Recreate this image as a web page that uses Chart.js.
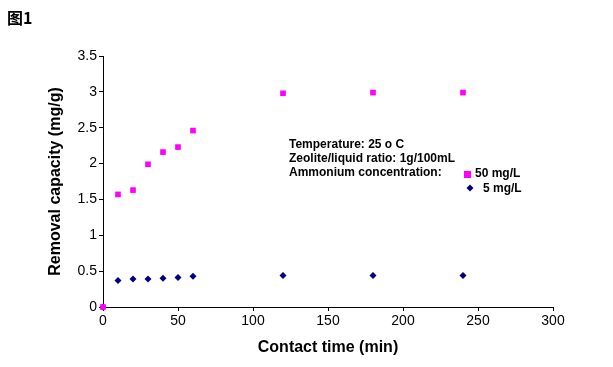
<!DOCTYPE html>
<html>
<head>
<meta charset="utf-8">
<script src="https://cdn.jsdelivr.net/npm/chart.js@4/dist/chart.umd.min.js"></script>
<style>
html,body{margin:0;padding:0;background:#fff}
#wrap{width:613px;height:367px;position:relative}
</style>
</head>
<body>
<div id="wrap"><canvas id="c" width="613" height="367"></canvas></div>
<script>
const times=[0,10,20,30,40,50,60,120,180,240];
const conc50=[0,1.57,1.63,1.99,2.16,2.23,2.46,2.98,2.99,2.99];
const conc5=[0,0.37,0.39,0.39,0.40,0.41,0.43,0.44,0.44,0.44];
const xTicks=[0,50,100,150,200,250,300];
const yTicks=[0,0.5,1,1.5,2,2.5,3,3.5];
const notes=['Temperature: 25 o C','Zeolite/liquid ratio: 1g/100mL','Ammonium concentration:'];

const PINK='#ff00ff', NAVY='#000080';
const pts=(ys)=>times.map((t,i)=>({x:t,y:ys[i]}));

const extras={id:'extras',afterDraw(ch){
  const c=ch.ctx; c.save();
  c.fillStyle='#000'; c.textBaseline='middle'; c.textAlign='left';
  c.font='bold 16px "Noto Sans CJK SC", sans-serif';
  c.fillText('图1',7,18);
  c.font='bold 12px "Liberation Sans", Arial, sans-serif';
  notes.forEach((s,i)=>c.fillText(s,289,145+i*14));
  c.fillText('50 mg/L',475,174);
  c.fillText('5 mg/L',483,189);
  c.fillStyle=PINK; c.fillRect(464,171,7,7);
  c.fillStyle=NAVY; c.beginPath();
  c.moveTo(470,184.5);c.lineTo(473.5,188);c.lineTo(470,191.5);c.lineTo(466.5,188);c.closePath();c.fill();
  c.restore();
}};

const tickFont={family:'"Liberation Sans", Arial, sans-serif',size:14};
const titleFont={family:'"Liberation Sans", Arial, sans-serif',size:16,weight:'bold'};

new Chart(document.getElementById('c'),{
  type:'scatter',
  data:{datasets:[
    {label:'50 mg/L',data:pts(conc50),pointStyle:'rect',pointRadius:4,backgroundColor:PINK,borderColor:PINK,borderWidth:0,clip:false},
    {label:'5 mg/L',data:pts(conc5),pointStyle:'rectRot',pointRadius:3.5,backgroundColor:NAVY,borderColor:NAVY,borderWidth:0,clip:false}
  ]},
  options:{
    responsive:false,animation:false,
    layout:{padding:{left:46,top:56,right:60,bottom:10}},
    plugins:{legend:{display:false},tooltip:{enabled:false}},
    scales:{
      x:{type:'linear',min:0,max:300,
        afterBuildTicks:s=>{s.ticks=xTicks.map(v=>({value:v}));},
        afterFit:s=>{s.height=50;},
        grid:{drawOnChartArea:false,drawTicks:true,tickLength:4,color:'#000'},
        border:{color:'#000',width:1},
        ticks:{color:'#000',font:tickFont,padding:2,maxRotation:0,callback:v=>String(v)},
        title:{display:true,text:'Contact time (min)',color:'#000',font:titleFont,padding:{top:2,bottom:0}}},
      y:{type:'linear',min:0,max:3.5,
        afterBuildTicks:s=>{s.ticks=yTicks.map(v=>({value:v}));},
        afterFit:s=>{s.width=57;},
        grid:{drawOnChartArea:false,drawTicks:true,tickLength:4,color:'#000'},
        border:{color:'#000',width:1},
        ticks:{color:'#000',font:tickFont,padding:2,callback:v=>String(v)},
        title:{display:true,text:'Removal capacity (mg/g)',color:'#000',font:titleFont,padding:{top:0,bottom:0}}}
    }
  },
  plugins:[extras]
});
</script>
</body>
</html>
